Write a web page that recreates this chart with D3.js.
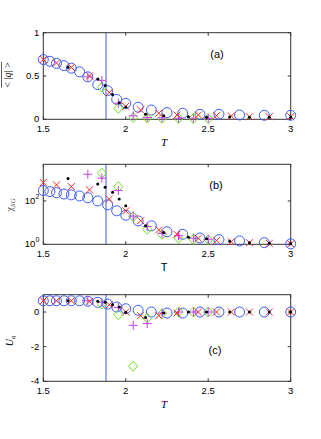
<!DOCTYPE html>
<html>
<head>
<meta charset="utf-8">
<script src="https://cdn.jsdelivr.net/npm/d3@7"></script>
<style>
  body { margin: 0; background: #fff; }
  svg text { font-family: "Liberation Sans", Arial, sans-serif; }
</style>
</head>
<body>
<div id="chart"></div>
<script>
// temperatures of each data set
const circleT = [1.5, 1.54, 1.58, 1.625, 1.67, 1.72, 1.77, 1.83, 1.89, 1.945, 2.0, 2.075, 2.155, 2.25, 2.345, 2.45, 2.565, 2.69, 2.84, 3.0];
const crossT = [1.5, 1.58, 1.67, 1.78, 1.9, 2.0, 2.09, 2.2, 2.31, 2.44, 2.55, 2.64, 2.75, 2.87, 3.0];
const dotT = [1.65, 1.83, 1.875, 1.92, 1.96, 2.0, 2.12, 2.23, 2.38, 2.49, 2.63, 2.75, 2.87, 3.0];
const plusT = [1.77, 1.855, 1.955, 2.045, 2.13, 2.22, 2.32, 2.41, 2.5];
const diamondT = [1.855, 1.955, 2.045, 2.13, 2.22, 2.32, 2.41, 2.5];

// (a) <|q|>
const qCircle = [0.69, 0.67, 0.646, 0.62, 0.59, 0.548, 0.49, 0.40, 0.33, 0.23, 0.185, 0.14, 0.107, 0.077, 0.07, 0.058, 0.058, 0.05, 0.046, 0.046];
const qCross = [0.69, 0.65, 0.6, 0.5, 0.31, 0.15, 0.108, 0.07, 0.05, 0.05, 0.042, 0.038, 0.03, 0.03, 0.03];
const qDot = [0.6, 0.465, 0.39, 0.285, 0.19, 0.14, 0.058, 0.042, 0.03, 0.023, 0.027, 0.023, 0.023, 0.023];
const qPlus = [0.49, 0.45, 0.185, 0.04, 0.02, 0.017, 0.012, 0.012, 0.012];
const qDiamond = [0.37, 0.127, 0.02, 0.015, 0.01, 0.01, 0.008, 0.008];

// (b) chi_SG
const chiCircle = [302, 269, 240, 209, 191, 170, 141, 100, 66, 35, 22, 12, 7.1, 3.8, 2.9, 1.95, 1.64, 1.43, 1.19, 1.05];
const chiCross = [708, 550, 457, 324, 123, 35, 12.3, 4.6, 2.9, 1.9, 1.48, 1.32, 1.19, 1.11, 1.05];
const chiDot = [1070, 600, 427, 251, 123, 60, 7.1, 3.5, 2.1, 1.8, 1.38, 1.19, 1.11, 1.05];
const chiPlus = [1700, 1120, 302, 20, 6.6, 3.2, 2.5, 1.9, 1.7];
const chiDiamond = [1900, 457, 19, 4.9, 2.9, 1.9, 1.7, 1.6];

// (c) U_q
const uCircle = [0.65, 0.65, 0.65, 0.65, 0.65, 0.65, 0.62, 0.56, 0.46, 0.29, 0.19, 0.1, 0.0, -0.06, -0.06, 0, 0, 0, 0, 0];
const uCross = [0.65, 0.65, 0.65, 0.62, 0.42, 0.0, -0.21, -0.21, -0.06, 0, 0, 0, 0, 0, 0];
const uDot = [0.65, 0.62, 0.56, 0.42, 0.29, -0.02, -0.31, -0.06, 0, 0, 0, 0, 0, 0];
const uPlus = [0.65, 0.56, 0.27, -0.77, -0.67, -0.06, 0, 0, 0];
const uDiamond = [0.46, -0.15, -3.13, -0.35, -0.1, 0, 0, 0];

const xTicks = [1.5, 2, 2.5, 3];
const Tc = 1.88;

const width = 321, height = 439;
const left = 43.3, right = 290.7;

const svg = d3.select("#chart").append("svg")
    .attr("width", width)
    .attr("height", height);

const x = d3.scaleLinear().domain([1.5, 3]).range([left, right]);

const zip = (ts, vs) => ts.map((t, i) => [t, vs[i]]);

function drawPanel(cfg) {
    const y = cfg.y;
    const g = svg.append("g");
    const [y0, y1] = y.range();

    // critical temperature line
    g.append("line")
        .attr("x1", x(Tc)).attr("x2", x(Tc))
        .attr("y1", y0).attr("y2", y1)
        .attr("stroke", "#9eacf2")
        .attr("stroke-width", 2);

    // box
    g.append("rect")
        .attr("x", left).attr("y", y1)
        .attr("width", right - left).attr("height", y0 - y1)
        .attr("fill", "none")
        .attr("stroke", "#333")
        .attr("stroke-width", 1);

    // x ticks (inside, top and bottom)
    xTicks.forEach(t => {
        g.append("line").attr("x1", x(t)).attr("x2", x(t)).attr("y1", y0).attr("y2", y0 - 3).attr("stroke", "#333");
        g.append("line").attr("x1", x(t)).attr("x2", x(t)).attr("y1", y1).attr("y2", y1 + 3).attr("stroke", "#333");
        g.append("text")
            .attr("x", x(t)).attr("y", y0 + 12.5)
            .attr("text-anchor", "middle")
            .style("font-size", "9.5px")
            .text(t);
    });

    // y ticks
    cfg.yTicks.forEach(v => {
        g.append("line").attr("x1", left).attr("x2", left + 3).attr("y1", y(v)).attr("y2", y(v)).attr("stroke", "#333");
        g.append("line").attr("x1", right).attr("x2", right - 3).attr("y1", y(v)).attr("y2", y(v)).attr("stroke", "#333");
        const tx = g.append("text")
            .attr("x", left - 4).attr("y", y(v) + 3)
            .attr("text-anchor", "end")
            .style("font-size", "9.5px");
        if (cfg.log) {
            tx.append("tspan").text("10");
            tx.append("tspan").attr("dy", -5).style("font-size", "7px").text(Math.round(Math.log10(v)));
        } else {
            tx.text(v);
        }
    });

    // markers
    const m = g.append("g");
    m.selectAll(".circ")
        .data(zip(circleT, cfg.circle))
        .join("circle")
        .attr("cx", d => x(d[0])).attr("cy", d => y(d[1]))
        .attr("r", 5)
        .attr("fill", "none")
        .attr("stroke", "#3b5cf5")
        .attr("stroke-width", 1);

    m.selectAll(".dia")
        .data(zip(diamondT, cfg.diamond))
        .join("path")
        .attr("d", "M0,-5L4.5,0L0,5L-4.5,0Z")
        .attr("transform", d => `translate(${x(d[0])},${y(d[1])})`)
        .attr("fill", "none")
        .attr("stroke", "#6ee02a")
        .attr("stroke-width", 1);

    m.selectAll(".plus")
        .data(zip(plusT, cfg.plus))
        .join("path")
        .attr("d", "M-4.5,0H4.5M0,-4.5V4.5")
        .attr("transform", d => `translate(${x(d[0])},${y(d[1])})`)
        .attr("stroke", "#c441ef")
        .attr("stroke-width", 1);

    m.selectAll(".cross")
        .data(zip(crossT, cfg.cross))
        .join("path")
        .attr("d", "M-3.5,-3.5L3.5,3.5M-3.5,3.5L3.5,-3.5")
        .attr("transform", d => `translate(${x(d[0])},${y(d[1])})`)
        .attr("stroke", "#f42a2a")
        .attr("stroke-width", 1);

    m.selectAll(".dot")
        .data(zip(dotT, cfg.dot))
        .join("circle")
        .attr("cx", d => x(d[0])).attr("cy", d => y(d[1]))
        .attr("r", 1.5)
        .attr("fill", "#000");

    // panel tag
    g.append("text")
        .attr("x", cfg.tag[0]).attr("y", cfg.tag[1])
        .attr("text-anchor", "middle")
        .style("font-size", "11px")
        .text(cfg.label);

    // T label
    const tl = g.append("text")
        .attr("x", (left + right) / 2 - 3).attr("y", y0 + 27)
        .attr("text-anchor", "middle")
        .style("font-size", "11px")
        .text("T");
    if (cfg.italicT) {
        tl.style("font-family", "'Liberation Serif', serif").style("font-style", "italic");
    }
    return g;
}

// (a)
const ya = d3.scaleLinear().domain([0, 1]).range([119.3, 32.7]);
const ga = drawPanel({ y: ya, yTicks: [0, 0.5, 1], circle: qCircle, cross: qCross, dot: qDot, plus: qPlus, diamond: qDiamond, label: "(a)", tag: [217, 58], italicT: true });

// (b)
const yb = d3.scaleLog().domain([1, Math.pow(10, 3.69)]).range([244.3, 164.3]);
const gb = drawPanel({ y: yb, yTicks: [1, 100], log: true, circle: chiCircle, cross: chiCross, dot: chiDot, plus: chiPlus, diamond: chiDiamond, label: "(b)", tag: [216, 189], italicT: false });

// (c)
const yc = d3.scaleLinear().domain([-4, 1]).range([381.3, 294.7]);
const gc = drawPanel({ y: yc, yTicks: [-4, -2, 0], circle: uCircle, cross: uCross, dot: uDot, plus: uPlus, diamond: uDiamond, label: "(c)", tag: [215, 354], italicT: true });

// y axis labels
const la = svg.append("g").attr("transform", "translate(11,75) rotate(-90)");
const lat = la.append("text")
    .attr("text-anchor", "middle")
    .style("font-family", "'Liberation Serif', serif")
    .style("font-size", "10px");
lat.append("tspan").text("< |");
lat.append("tspan").style("font-style", "italic").text("q");
lat.append("tspan").text("| >");
const bb = lat.node().getBBox();
la.append("line")
    .attr("x1", bb.x).attr("x2", bb.x + bb.width)
    .attr("y1", bb.y - 0.5).attr("y2", bb.y - 0.5)
    .attr("stroke", "#333").attr("stroke-width", 0.8);

const lb = svg.append("text")
    .attr("transform", "translate(13,205) rotate(-90)")
    .attr("text-anchor", "middle")
    .style("font-family", "'Liberation Serif', serif")
    .style("font-size", "10px")
    .attr("fill", "#444");
lb.append("tspan").text("χ");
lb.append("tspan").attr("dy", 2).style("font-size", "7px").style("font-style", "italic").text("SG");

const lc = svg.append("text")
    .attr("transform", "translate(13,341) rotate(-90)")
    .attr("text-anchor", "middle")
    .style("font-family", "'Liberation Serif', serif")
    .style("font-style", "italic")
    .style("font-size", "10px");
lc.append("tspan").text("U");
lc.append("tspan").attr("dy", 2).style("font-size", "7px").text("q");
</script>
</body>
</html>
